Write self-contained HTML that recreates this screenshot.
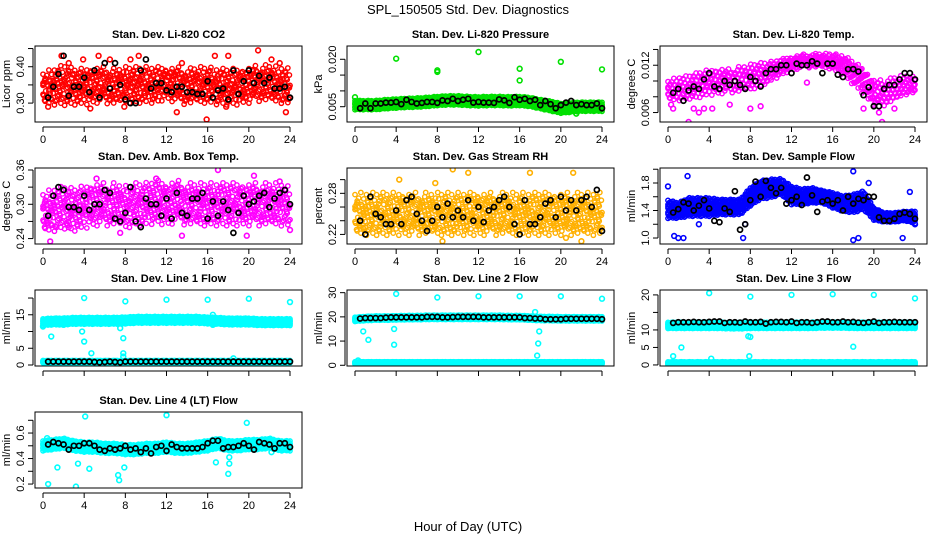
<!DOCTYPE html>
<html><head><meta charset="utf-8"><title>SPL_150505 Std. Dev. Diagnostics</title>
<style>
html,body{margin:0;padding:0;background:#fff;}
svg{display:block;font-family:"Liberation Sans",Arial,sans-serif;}
</style></head>
<body>
<svg id="chart" width="936" height="540" viewBox="0 0 936 540" xmlns="http://www.w3.org/2000/svg">
<rect x="0" y="0" width="936" height="540" fill="#fff"/>
<text x="468" y="14" text-anchor="middle" font-size="13">SPL_150505  Std. Dev. Diagnostics</text>
<text x="468" y="531" text-anchor="middle" font-size="13">Hour of Day (UTC)</text>
<g id="panels"></g>
</svg>
<script>
// ---------- shared hour grids ----------
const hours = [0,1,2,3,4,5,6,7,8,9,10,11,12,13,14,15,16,17,18,19,20,21,22,23,24];
const halfHours = [0.5,1,1.5,2,2.5,3,3.5,4,4.5,5,5.5,6,6.5,7,7.5,8,8.5,9,9.5,10,10.5,11,11.5,12,12.5,13,13.5,14,14.5,15,15.5,16,16.5,17,17.5,18,18.5,19,19.5,20,20.5,21,21.5,22,22.5,23,23.5,24];
const xTicks = [0,4,8,12,16,20,24];

// ---------- P1 CO2 ----------
const co2Mid = [0.34,0.345,0.35,0.345,0.345,0.35,0.35,0.345,0.35,0.35,0.35,0.35,0.355,0.35,0.345,0.35,0.35,0.345,0.345,0.345,0.35,0.355,0.355,0.35,0.345];
const co2Spread = [0.035,0.04,0.045,0.04,0.04,0.04,0.04,0.04,0.04,0.04,0.04,0.04,0.035,0.04,0.04,0.04,0.04,0.04,0.04,0.04,0.04,0.04,0.04,0.04,0.04];
const co2Black = [0.315,0.345,0.38,0.43,0.32,0.345,0.345,0.37,0.33,0.39,0.315,0.41,0.34,0.41,0.35,0.31,0.30,0.30,0.39,0.42,0.34,0.355,0.355,0.335,0.33,0.345,0.345,0.33,0.33,0.325,0.325,0.36,0.315,0.335,0.34,0.31,0.39,0.325,0.36,0.39,0.355,0.375,0.355,0.37,0.34,0.34,0.345,0.315];
const co2OutX = [1.8,2.5,3.9,5.4,6.5,8.5,9.3,13.5,15.9,16.7,18,20.9,22.2,23,0.5,4.6,13,23.6,7.9,17.8];
const co2OutY = [0.43,0.41,0.42,0.43,0.42,0.42,0.43,0.41,0.255,0.43,0.43,0.445,0.42,0.41,0.29,0.285,0.275,0.275,0.29,0.29];

// ---------- P2 Pressure ----------
const presMid = [0.0055,0.0055,0.0055,0.0058,0.006,0.0062,0.0063,0.0065,0.0068,0.007,0.007,0.0068,0.0067,0.0068,0.0068,0.0067,0.0068,0.0065,0.0058,0.0052,0.0045,0.0048,0.005,0.005,0.005];
const presSpread = [0.0013,0.0013,0.0013,0.0013,0.0013,0.0013,0.0013,0.0013,0.0013,0.0013,0.0013,0.0013,0.0013,0.0013,0.0013,0.0013,0.0013,0.0013,0.0013,0.0014,0.0014,0.0014,0.0013,0.0013,0.0013];
const presBlack = [0.0045,0.006,0.0045,0.006,0.006,0.0063,0.0063,0.0065,0.0058,0.0072,0.0065,0.006,0.0062,0.0065,0.0065,0.0062,0.007,0.0068,0.0075,0.0068,0.0072,0.0075,0.0063,0.0065,0.0063,0.0063,0.0062,0.0073,0.007,0.0062,0.008,0.0072,0.0075,0.0068,0.0072,0.0055,0.0068,0.0058,0.0045,0.0055,0.0063,0.0068,0.0055,0.0058,0.0055,0.0055,0.006,0.0045];
const presOutX = [0,4,8,8,12,16,16,20,24,21.5];
const presOutY = [0.008,0.0202,0.0165,0.016,0.0223,0.017,0.0133,0.0192,0.0168,0.0028];

// ---------- P3 Li-820 Temp ----------
const tempMid = [0.0088,0.009,0.0092,0.0095,0.0098,0.01,0.01,0.0102,0.0105,0.0108,0.0112,0.0118,0.0122,0.0125,0.0126,0.0126,0.0125,0.012,0.011,0.01,0.0085,0.0085,0.009,0.0095,0.0095];
const tempSpread = [0.001,0.0012,0.0012,0.0013,0.0013,0.0013,0.0012,0.0013,0.0013,0.0012,0.001,0.0008,0.0007,0.0007,0.0007,0.0007,0.0008,0.001,0.0012,0.0013,0.0013,0.0013,0.0012,0.001,0.0008];
const tempBlack = [0.0085,0.009,0.0075,0.0088,0.0093,0.009,0.0102,0.011,0.0093,0.009,0.01,0.0095,0.01,0.0095,0.009,0.0105,0.01,0.0093,0.011,0.0115,0.0115,0.012,0.012,0.011,0.0122,0.012,0.012,0.0125,0.0122,0.011,0.0122,0.0122,0.0108,0.0105,0.0115,0.0115,0.0112,0.0082,0.0092,0.0068,0.0068,0.009,0.0095,0.0095,0.0102,0.011,0.011,0.0102];
const tempOutX = [0.3,0.5,2,2.5,3,3.5,4.3,6,8,9,13.5,20.8,20.5,22,19];
const tempOutY = [0.007,0.0065,0.0048,0.0065,0.006,0.0065,0.0065,0.007,0.0065,0.0068,0.0098,0.0048,0.006,0.0065,0.0065];

// ---------- P4 Amb Box Temp ----------
const ambMid = [0.285,0.29,0.295,0.29,0.295,0.3,0.3,0.3,0.295,0.3,0.3,0.305,0.3,0.305,0.3,0.3,0.3,0.3,0.3,0.3,0.3,0.3,0.3,0.3,0.295];
const ambSpread = [0.028,0.03,0.03,0.03,0.03,0.03,0.03,0.03,0.03,0.03,0.03,0.03,0.03,0.03,0.03,0.03,0.03,0.03,0.03,0.03,0.03,0.03,0.03,0.03,0.028];
const ambBlack = [0.28,0.315,0.33,0.325,0.295,0.295,0.29,0.315,0.29,0.3,0.3,0.325,0.32,0.275,0.27,0.285,0.33,0.27,0.26,0.31,0.3,0.3,0.28,0.31,0.275,0.32,0.285,0.28,0.31,0.31,0.32,0.275,0.305,0.28,0.305,0.29,0.25,0.285,0.315,0.3,0.305,0.315,0.32,0.295,0.31,0.32,0.325,0.3];
const ambOutX = [0.7,1.3,5.2,7.5,11,13.5,17,20.5,23,24,19.8,2.5];
const ambOutY = [0.235,0.26,0.345,0.25,0.345,0.245,0.36,0.35,0.34,0.255,0.245,0.26];

// ---------- P5 Gas Stream RH ----------
const rhMid = [0.25,0.25,0.25,0.25,0.25,0.25,0.25,0.25,0.25,0.25,0.25,0.25,0.25,0.25,0.25,0.25,0.25,0.25,0.25,0.25,0.25,0.25,0.25,0.25,0.25];
const rhSpread = [0.025,0.025,0.025,0.025,0.025,0.025,0.025,0.025,0.025,0.025,0.025,0.025,0.025,0.025,0.025,0.025,0.025,0.025,0.025,0.025,0.025,0.025,0.025,0.025,0.025];
const rhBlack = [0.24,0.22,0.275,0.25,0.245,0.235,0.235,0.255,0.235,0.27,0.275,0.25,0.24,0.225,0.24,0.26,0.245,0.265,0.245,0.255,0.245,0.27,0.24,0.26,0.238,0.255,0.26,0.27,0.275,0.26,0.235,0.22,0.27,0.235,0.235,0.245,0.265,0.27,0.245,0.275,0.255,0.27,0.255,0.27,0.275,0.26,0.285,0.225];
const rhOutX = [4.3,9.5,11,17,21.2,7.8,1,8.5,20.5,22];
const rhOutY = [0.3,0.315,0.31,0.31,0.31,0.295,0.23,0.21,0.215,0.21];

// ---------- P6 Sample Flow ----------
const flowMid = [1.42,1.4,1.45,1.45,1.45,1.45,1.45,1.45,1.6,1.7,1.72,1.75,1.62,1.6,1.62,1.6,1.55,1.5,1.5,1.55,1.35,1.3,1.3,1.32,1.3];
const flowSpread = [0.12,0.1,0.12,0.12,0.12,0.1,0.1,0.1,0.12,0.12,0.12,0.1,0.12,0.1,0.1,0.08,0.1,0.1,0.12,0.12,0.08,0.06,0.06,0.06,0.08];
const flowBlack = [1.37,1.42,1.52,1.5,1.4,1.47,1.55,1.43,1.25,1.23,1.43,1.38,1.68,1.12,1.2,1.55,1.82,1.6,1.83,1.73,1.65,1.73,1.5,1.55,1.6,1.48,1.88,1.62,1.38,1.53,1.55,1.5,1.55,1.4,1.6,1.5,1.57,1.55,1.6,1.6,1.3,1.25,1.25,1.28,1.35,1.37,1.35,1.28];
const flowOutX = [0.6,1,1.5,1.9,3,7.3,7.5,18,18,18.5,23.5,22.8,24,0,19.5];
const flowOutY = [1.03,1.0,1.0,1.9,1.2,1.0,1.2,1.97,0.97,1.0,1.67,1.0,1.2,1.75,1.8];

// ---------- P7 Line 1 Flow ----------
const l1Mid = [12.8,13,13,13.2,13.2,13.2,13.2,13.2,13.3,13.5,13.5,13.5,13.5,13.5,13.5,13.5,13.3,13.2,13,13,13,12.8,12.8,12.8,12.8];
const l1Spread = [0.9,0.9,0.9,0.9,0.9,0.9,0.9,0.9,0.9,0.9,0.9,0.9,0.9,0.9,0.9,0.9,0.9,0.9,0.9,0.9,0.9,0.9,0.9,0.9,0.9];
const l1LowMid = [1,1,1,1,1,1,1,1,1,1,1,1,1,1,1,1,1,1,1,1,1,1,1,1,1];
const l1LowSpread = [0.3,0.3,0.3,0.3,0.3,0.3,0.3,0.3,0.3,0.3,0.3,0.3,0.3,0.3,0.3,0.3,0.3,0.3,0.3,0.3,0.3,0.3,0.3,0.3,0.3];
const l1Black = [1,1,1,1,1,1,1,1,1,0.9,0.8,0.9,1,0.9,0.8,1,1,1,1,1,1,1,1,1,1,1,1,1,1,1,1,1,1,1,1,1,1,1,1,1,1,1,1,1,1,1,1,1];
const l1OutX = [4,8,12,16,20,24,0,0.8,2,3.8,4,4.7,7.5,7.8,7.8,7.8,16.5,16.5,18.5];
const l1OutY = [20,19,19.5,19.5,19.8,18.8,11.5,8.5,12,10,7,3.5,11,8,3.5,2.5,15,12,2];

// ---------- P8 Line 2 Flow ----------
const l2Mid = [19,19.3,19.5,19.5,19.6,19.7,19.7,19.8,19.8,19.8,19.8,19.8,19.8,19.8,19.8,19.7,19.7,19.5,19.3,19.3,19.2,19.2,19.2,19.2,19.2];
const l2Spread = [0.8,0.8,0.8,0.8,0.8,0.8,0.8,0.8,0.8,0.8,0.8,0.8,0.8,0.8,0.8,0.8,0.8,0.8,0.8,0.8,0.8,0.8,0.8,0.8,0.8];
const l2LowMid = [1,1,1,1,1,1,1,1,1,1,1,1,1,1,1,1,1,1,1,1,1,1,1,1,1];
const l2LowSpread = [0.4,0.4,0.4,0.4,0.4,0.4,0.4,0.4,0.4,0.4,0.4,0.4,0.4,0.4,0.4,0.4,0.4,0.4,0.4,0.4,0.4,0.4,0.4,0.4,0.4];
const l2Black = [19.3,19.5,19.5,19.5,19.5,19.7,19.8,19.8,19.8,19.8,19.8,19.8,19.8,20,20,20,19.8,19.8,19.9,20,20,20,20,20,19.8,19.8,19.8,19.8,19.8,19.8,19.8,19.8,19.5,19.5,19.3,19.3,19,19,19,19,19.2,19.2,19.2,19.2,19.2,19.2,19.2,19];
const l2OutX = [4,8,12,16,20,24,0.8,1.3,3.8,3.8,17.5,17.7,17.8,17.9,0.3];
const l2OutY = [29.5,28,28.5,28.5,28.5,27.5,14,10.5,15,8.5,22,4,9,14,2];

// ---------- P9 Line 3 Flow ----------
const l3Mid = [11.3,11.3,11.3,11.3,11.3,11.3,11.2,11.2,11.3,11.3,11.3,11.3,11.3,11.3,11.3,11.4,11.4,11.4,11.3,11.3,11.3,11.3,11.3,11.3,11.3];
const l3Spread = [0.8,0.8,0.8,0.8,0.8,0.8,0.8,0.8,0.8,0.8,0.8,0.8,0.8,0.8,0.8,0.8,0.8,0.8,0.8,0.8,0.8,0.8,0.8,0.8,0.8];
const l3LowMid = [0.5,0.5,0.5,0.5,0.5,0.5,0.5,0.5,0.5,0.5,0.5,0.5,0.5,0.5,0.5,0.5,0.5,0.5,0.5,0.5,0.5,0.5,0.5,0.5,0.5];
const l3LowSpread = [0.35,0.35,0.35,0.35,0.35,0.35,0.35,0.35,0.35,0.35,0.35,0.35,0.35,0.35,0.35,0.35,0.35,0.35,0.35,0.35,0.35,0.35,0.35,0.35,0.35];
const l3Black = [12,12.2,12.2,12.2,12.3,12.2,12.2,12.3,12.4,12.4,12,12.2,12.2,12.1,12.4,12.2,12.2,12.3,11.8,12.2,12.3,12.3,12.2,12.4,12,12.2,12.2,12,12.2,12.4,12.4,12.2,12.2,12.4,12.2,12.3,12.1,12,12.2,12.4,12,12.2,12.2,12.3,12.2,12.2,12.2,12.2];
const l3OutX = [4,8,12,16,20,24,0.5,1.3,7.8,8,18,4.2,7.9];
const l3OutY = [20.5,19.5,20,20.2,20,19,2.5,5,8.2,8,5.2,1.8,2.5];

// ---------- P10 Line 4 (LT) Flow ----------
const l4Mid = [0.5,0.51,0.52,0.5,0.49,0.49,0.48,0.48,0.47,0.47,0.48,0.48,0.49,0.48,0.48,0.49,0.5,0.52,0.5,0.5,0.51,0.51,0.52,0.5,0.5];
const l4Spread = [0.035,0.035,0.035,0.035,0.035,0.035,0.035,0.035,0.035,0.035,0.035,0.035,0.035,0.035,0.035,0.035,0.035,0.035,0.035,0.035,0.035,0.035,0.035,0.035,0.035];
const l4Black = [0.51,0.53,0.52,0.51,0.47,0.5,0.5,0.52,0.52,0.5,0.47,0.46,0.48,0.47,0.48,0.5,0.47,0.48,0.45,0.48,0.44,0.49,0.5,0.46,0.51,0.49,0.48,0.48,0.48,0.48,0.49,0.52,0.54,0.54,0.48,0.49,0.49,0.5,0.52,0.5,0.47,0.53,0.52,0.51,0.48,0.52,0.52,0.49];
const l4OutX = [0.5,1.4,3.2,3.4,4.1,4.5,7.3,7.4,7.9,12,16.8,18,18.1,18.1,19.8,0.4,22.2];
const l4OutY = [0.2,0.33,0.18,0.36,0.73,0.32,0.27,0.23,0.33,0.74,0.37,0.28,0.36,0.41,0.68,0.56,0.45];

// ---------- Panel layout config ----------
const panels = [
 {name:'co2',title:'Stan. Dev. Li-820 CO2',ylab:'Licor ppm',L:35,T:46,ymin:0.248,ymax:0.457,color:'#ff0000',sparse:true,mid:co2Mid,spr:co2Spread,black:co2Black,ox:co2OutX,oy:co2OutY,yt:[0.30,0.35,0.40,0.45],yl:['0.30','','0.40',''],xl:true},
 {name:'pressure',title:'Stan. Dev. Li-820 Pressure',ylab:'kPa',L:347,T:46,ymin:0.00016,ymax:0.0242,color:'#00e000',mid:presMid,spr:presSpread,black:presBlack,ox:presOutX,oy:presOutY,yt:[0.005,0.010,0.015,0.020],yl:['0.005','','','0.020'],xl:true},
 {name:'li820-temp',title:'Stan. Dev. Li-820 Temp.',ylab:'degrees C',L:660,T:46,ymin:0.0048,ymax:0.01444,color:'#ff00ff',sparse:true,mid:tempMid,spr:tempSpread,black:tempBlack,ox:tempOutX,oy:tempOutY,yt:[0.006,0.008,0.010,0.012,0.014],yl:['0.006','','','0.012',''],xl:true},
 {name:'amb-box-temp',title:'Stan. Dev. Amb. Box Temp.',ylab:'degrees C',L:35,T:168,ymin:0.2305,ymax:0.3635,color:'#ff00ff',sparse:true,mid:ambMid,spr:ambSpread,black:ambBlack,ox:ambOutX,oy:ambOutY,yt:[0.24,0.27,0.30,0.33,0.36],yl:['0.24','','0.30','','0.36'],xl:true},
 {name:'gas-stream-rh',title:'Stan. Dev. Gas Stream RH',ylab:'percent',L:347,T:168,ymin:0.206,ymax:0.317,color:'#ffb000',sparse:true,mid:rhMid,spr:rhSpread,black:rhBlack,ox:rhOutX,oy:rhOutY,yt:[0.22,0.24,0.26,0.28,0.30],yl:['0.22','','','0.28',''],xl:true},
 {name:'sample-flow',title:'Stan. Dev. Sample Flow',ylab:'ml/min',L:660,T:168,ymin:0.913,ymax:2.018,color:'#0000ff',mid:flowMid,spr:flowSpread,black:flowBlack,ox:flowOutX,oy:flowOutY,yt:[1.0,1.2,1.4,1.6,1.8,2.0],yl:['1.0','','1.4','','1.8',''],xl:true},
 {name:'line1-flow',title:'Stan. Dev. Line 1 Flow',ylab:'ml/min',L:35,T:290,ymin:-0.3,ymax:22.4,color:'#00ffff',mid:l1Mid,spr:l1Spread,lowMid:l1LowMid,lowSpr:l1LowSpread,black:l1Black,ox:l1OutX,oy:l1OutY,yt:[0,5,10,15,20],yl:['0','5','','15',''],xl:false},
 {name:'line2-flow',title:'Stan. Dev. Line 2 Flow',ylab:'ml/min',L:347,T:290,ymin:-0.3,ymax:31.1,color:'#00ffff',mid:l2Mid,spr:l2Spread,lowMid:l2LowMid,lowSpr:l2LowSpread,black:l2Black,ox:l2OutX,oy:l2OutY,yt:[0,10,20,30],yl:['0','10','20','30'],xl:false},
 {name:'line3-flow',title:'Stan. Dev. Line 3 Flow',ylab:'ml/min',L:660,T:290,ymin:-0.3,ymax:21.4,color:'#00ffff',mid:l3Mid,spr:l3Spread,lowMid:l3LowMid,lowSpr:l3LowSpread,black:l3Black,ox:l3OutX,oy:l3OutY,yt:[0,5,10,15,20],yl:['0','5','10','','20'],xl:false},
 {name:'line4-flow',title:'Stan. Dev. Line 4 (LT) Flow',ylab:'ml/min',L:35,T:412,ymin:0.169,ymax:0.765,color:'#00ffff',mid:l4Mid,spr:l4Spread,black:l4Black,ox:l4OutX,oy:l4OutY,yt:[0.2,0.3,0.4,0.5,0.6,0.7],yl:['0.2','','0.4','','0.6',''],xl:true}
];

const NS = 'http://www.w3.org/2000/svg';
const W = 267, H = 76;
const root = document.getElementById('panels');
function mk(tag, attrs, parent){
  const e = document.createElementNS(NS, tag);
  for (const k in attrs) e.setAttribute(k, attrs[k]);
  parent.appendChild(e);
  return e;
}
function interp(arr, t){
  const i = Math.min(Math.floor(t), arr.length - 2);
  const f = t - i;
  return arr[i] * (1 - f) + arr[i + 1] * f;
}
const levels = [-1,-0.67,-0.33,0,0.33,0.67,1];

panels.forEach(p => {
  const g = mk('g', {}, root);
  
  
  const xs = v => p.L + 8 + v / 24 * 247;
  const ys = v => p.T + H - (v - p.ymin) / (p.ymax - p.ymin) * H;
  const B = p.T + H;

  const t = mk('text', {x: p.L + W / 2, y: p.T - 8, 'text-anchor': 'middle', 'font-size': 11, 'font-weight': 'bold'}, g);
  t.textContent = p.title;
  
  

  const yl = mk('text', {x: 0, y: 0, transform: `translate(${p.L - 25},${p.T + H / 2}) rotate(-90)`, 'text-anchor': 'middle', 'font-size': 11}, g);
  yl.textContent = p.ylab;
  
  

  const cid = 'clip-' + p.name;
  const cp = mk('clipPath', {id: cid}, g);
  mk('rect', {x: p.L, y: p.T, width: W, height: H}, cp);
  const marks = mk('g', {'clip-path': `url(#${cid})`, fill: 'none', 'stroke-width': 1.4}, g);
  
  

  function cloud(midArr, sprArr){
    let n = 0;
    const step = p.sparse ? 0.21 : 0.16;
    const jscale = p.sparse ? 0.25 : 0.12;
    for (let h = 0; h <= 24.0001; h += step) {
      const m = interp(midArr, h), s = interp(sprArr, h);
      levels.forEach((k, j) => {
        if (p.sparse && (n * 5 + j * 3) % 7 === 0) return;
        const jit = ((n * 7 + j * 3) % 5 - 2) * jscale;
        const dx = p.sparse ? (((n + j * 2) % 3) - 1) * 0.06 : 0;
        const c = mk('circle', {cx: xs(Math.min(24, Math.max(0, h + dx))), cy: ys(m + (k + jit * 0.5) * s), r: 2.2, stroke: p.color}, marks);
        
        
      });
      n++;
    }
  }
  cloud(p.mid, p.spr);
  if (p.lowMid) cloud(p.lowMid, p.lowSpr);
  p.ox.forEach((x, i) => {
    const c = mk('circle', {cx: xs(x), cy: ys(p.oy[i]), r: 2.4, stroke: p.color, 'stroke-width': 1.6}, marks);
    
    
  });
  p.black.forEach((v, i) => {
    const c = mk('circle', {cx: xs(halfHours[i]), cy: ys(v), r: 2.5, stroke: '#000', 'stroke-width': 1.7}, marks);
    
    
  });

  const bx = mk('rect', {x: p.L, y: p.T, width: W, height: H, fill: 'none', stroke: '#000', 'stroke-width': 1}, g);
  
  

  const xa = mk('g', {stroke: '#000', 'stroke-width': 1}, g);
  
  
  mk('line', {x1: xs(0), x2: xs(24), y1: B + 5, y2: B + 5}, xa);
  xTicks.forEach(v => {
    mk('line', {x1: xs(v), x2: xs(v), y1: B + 5, y2: B + 10}, xa);
    if (p.xl) {
      const tx = mk('text', {x: xs(v), y: B + 21, 'text-anchor': 'middle', 'font-size': 11, stroke: 'none', fill: '#000'}, xa);
      tx.textContent = v;
      
      
    }
  });

  const ya = mk('g', {stroke: '#000', 'stroke-width': 1}, g);
  
  
  const yv = p.yt.filter(v => ys(v) >= p.T - 0.5 && ys(v) <= B + 0.5);
  mk('line', {x1: p.L - 2, x2: p.L - 2, y1: ys(yv[0]), y2: ys(yv[yv.length - 1])}, ya);
  p.yt.forEach((v, i) => {
    const y = ys(v);
    if (y < p.T - 0.5 || y > B + 0.5) return;
    mk('line', {x1: p.L - 7, x2: p.L - 2, y1: y, y2: y}, ya);
    if (p.yl[i]) {
      const tx = mk('text', {x: 0, y: 0, transform: `translate(${p.L - 11},${y}) rotate(-90)`, 'text-anchor': 'middle', 'font-size': 11, stroke: 'none', fill: '#000'}, ya);
      tx.textContent = p.yl[i];
      
      
    }
  });
});
</script>
</body></html>
